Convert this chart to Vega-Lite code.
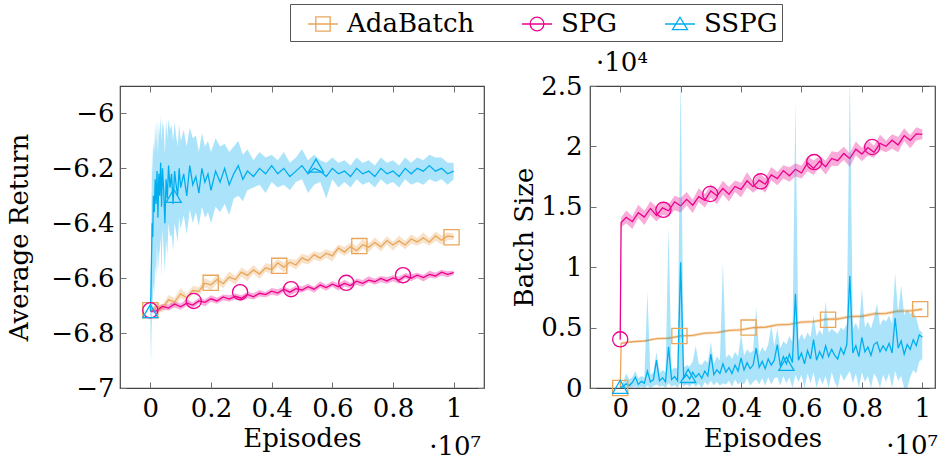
{
  "$schema": "https://vega.github.io/schema/vega-lite/v6.json",
  "padding": {"left": 6, "top": 2, "right": 5, "bottom": 0},
  "config": {
    "font": "DejaVu Serif, Liberation Serif, serif",
    "view": {"stroke": "#444444", "strokeWidth": 1.2},
    "axis": {"labelFont": "DejaVu Serif, Liberation Serif, serif", "labelFontSize": 26, "labelColor": "#000000", "titleFont": "DejaVu Serif, Liberation Serif, serif", "titleFontSize": 26, "titleFontWeight": "normal", "titleColor": "#000000", "domain": false, "grid": false, "tickColor": "#707070", "tickSize": -6, "tickWidth": 1, "labelFlush": false},
    "text": {"font": "DejaVu Serif, Liberation Serif, serif"}
  },
  "datasets": {
    "ret": [
      {"series":"AdaBatch","episodes":0,"mean":-6.720,"low":-6.725,"high":-6.715},
      {"series":"AdaBatch","episodes":0.02,"mean":-6.702,"low":-6.715,"high":-6.687},
      {"series":"AdaBatch","episodes":0.04,"mean":-6.709,"low":-6.726,"high":-6.697},
      {"series":"AdaBatch","episodes":0.06,"mean":-6.679,"low":-6.691,"high":-6.661},
      {"series":"AdaBatch","episodes":0.08,"mean":-6.686,"low":-6.705,"high":-6.672},
      {"series":"AdaBatch","episodes":0.1,"mean":-6.657,"low":-6.672,"high":-6.637},
      {"series":"AdaBatch","episodes":0.12,"mean":-6.671,"low":-6.687,"high":-6.658},
      {"series":"AdaBatch","episodes":0.14,"mean":-6.645,"low":-6.658,"high":-6.628},
      {"series":"AdaBatch","episodes":0.16,"mean":-6.648,"low":-6.666,"high":-6.633},
      {"series":"AdaBatch","episodes":0.18,"mean":-6.618,"low":-6.633,"high":-6.599},
      {"series":"AdaBatch","episodes":0.2,"mean":-6.624,"low":-6.644,"high":-6.612},
      {"series":"AdaBatch","episodes":0.22,"mean":-6.605,"low":-6.619,"high":-6.587},
      {"series":"AdaBatch","episodes":0.24,"mean":-6.620,"low":-6.637,"high":-6.606},
      {"series":"AdaBatch","episodes":0.26,"mean":-6.596,"low":-6.608,"high":-6.575},
      {"series":"AdaBatch","episodes":0.28,"mean":-6.605,"low":-6.624,"high":-6.592},
      {"series":"AdaBatch","episodes":0.3,"mean":-6.578,"low":-6.594,"high":-6.561},
      {"series":"AdaBatch","episodes":0.32,"mean":-6.590,"low":-6.611,"high":-6.575},
      {"series":"AdaBatch","episodes":0.34,"mean":-6.570,"low":-6.583,"high":-6.551},
      {"series":"AdaBatch","episodes":0.36,"mean":-6.585,"low":-6.603,"high":-6.573},
      {"series":"AdaBatch","episodes":0.38,"mean":-6.562,"low":-6.577,"high":-6.546},
      {"series":"AdaBatch","episodes":0.4,"mean":-6.569,"low":-6.586,"high":-6.549},
      {"series":"AdaBatch","episodes":0.42,"mean":-6.544,"low":-6.558,"high":-6.530},
      {"series":"AdaBatch","episodes":0.44,"mean":-6.560,"low":-6.580,"high":-6.543},
      {"series":"AdaBatch","episodes":0.46,"mean":-6.542,"low":-6.555,"high":-6.529},
      {"series":"AdaBatch","episodes":0.48,"mean":-6.552,"low":-6.568,"high":-6.533},
      {"series":"AdaBatch","episodes":0.5,"mean":-6.526,"low":-6.545,"high":-6.511},
      {"series":"AdaBatch","episodes":0.52,"mean":-6.536,"low":-6.550,"high":-6.518},
      {"series":"AdaBatch","episodes":0.54,"mean":-6.514,"low":-6.532,"high":-6.502},
      {"series":"AdaBatch","episodes":0.56,"mean":-6.527,"low":-6.539,"high":-6.507},
      {"series":"AdaBatch","episodes":0.58,"mean":-6.509,"low":-6.526,"high":-6.495},
      {"series":"AdaBatch","episodes":0.6,"mean":-6.519,"low":-6.539,"high":-6.503},
      {"series":"AdaBatch","episodes":0.62,"mean":-6.490,"low":-6.505,"high":-6.477},
      {"series":"AdaBatch","episodes":0.64,"mean":-6.505,"low":-6.518,"high":-6.486},
      {"series":"AdaBatch","episodes":0.66,"mean":-6.485,"low":-6.504,"high":-6.470},
      {"series":"AdaBatch","episodes":0.68,"mean":-6.500,"low":-6.516,"high":-6.483},
      {"series":"AdaBatch","episodes":0.7,"mean":-6.478,"low":-6.492,"high":-6.457},
      {"series":"AdaBatch","episodes":0.72,"mean":-6.487,"low":-6.505,"high":-6.474},
      {"series":"AdaBatch","episodes":0.74,"mean":-6.470,"low":-6.482,"high":-6.452},
      {"series":"AdaBatch","episodes":0.76,"mean":-6.486,"low":-6.503,"high":-6.472},
      {"series":"AdaBatch","episodes":0.78,"mean":-6.463,"low":-6.478,"high":-6.447},
      {"series":"AdaBatch","episodes":0.8,"mean":-6.479,"low":-6.499,"high":-6.467},
      {"series":"AdaBatch","episodes":0.82,"mean":-6.464,"low":-6.477,"high":-6.445},
      {"series":"AdaBatch","episodes":0.84,"mean":-6.479,"low":-6.495,"high":-6.464},
      {"series":"AdaBatch","episodes":0.86,"mean":-6.457,"low":-6.475,"high":-6.440},
      {"series":"AdaBatch","episodes":0.88,"mean":-6.468,"low":-6.482,"high":-6.455},
      {"series":"AdaBatch","episodes":0.9,"mean":-6.453,"low":-6.470,"high":-6.433},
      {"series":"AdaBatch","episodes":0.92,"mean":-6.469,"low":-6.481,"high":-6.455},
      {"series":"AdaBatch","episodes":0.94,"mean":-6.446,"low":-6.465,"high":-6.430},
      {"series":"AdaBatch","episodes":0.96,"mean":-6.462,"low":-6.477,"high":-6.444},
      {"series":"AdaBatch","episodes":0.98,"mean":-6.446,"low":-6.462,"high":-6.433},
      {"series":"AdaBatch","episodes":1,"mean":-6.450,"low":-6.460,"high":-6.438},
      {"series":"SPG","episodes":0,"mean":-6.720,"low":-6.724,"high":-6.716},
      {"series":"SPG","episodes":0.02,"mean":-6.719,"low":-6.729,"high":-6.708},
      {"series":"SPG","episodes":0.04,"mean":-6.703,"low":-6.715,"high":-6.694},
      {"series":"SPG","episodes":0.06,"mean":-6.709,"low":-6.718,"high":-6.696},
      {"series":"SPG","episodes":0.08,"mean":-6.694,"low":-6.707,"high":-6.684},
      {"series":"SPG","episodes":0.1,"mean":-6.704,"low":-6.715,"high":-6.692},
      {"series":"SPG","episodes":0.12,"mean":-6.691,"low":-6.701,"high":-6.677},
      {"series":"SPG","episodes":0.14,"mean":-6.698,"low":-6.710,"high":-6.689},
      {"series":"SPG","episodes":0.16,"mean":-6.683,"low":-6.692,"high":-6.672},
      {"series":"SPG","episodes":0.18,"mean":-6.688,"low":-6.702,"high":-6.678},
      {"series":"SPG","episodes":0.2,"mean":-6.675,"low":-6.686,"high":-6.662},
      {"series":"SPG","episodes":0.22,"mean":-6.683,"low":-6.693,"high":-6.671},
      {"series":"SPG","episodes":0.24,"mean":-6.668,"low":-6.681,"high":-6.659},
      {"series":"SPG","episodes":0.26,"mean":-6.676,"low":-6.685,"high":-6.662},
      {"series":"SPG","episodes":0.28,"mean":-6.666,"low":-6.678,"high":-6.656},
      {"series":"SPG","episodes":0.3,"mean":-6.673,"low":-6.684,"high":-6.662},
      {"series":"SPG","episodes":0.32,"mean":-6.659,"low":-6.673,"high":-6.650},
      {"series":"SPG","episodes":0.34,"mean":-6.668,"low":-6.678,"high":-6.655},
      {"series":"SPG","episodes":0.36,"mean":-6.655,"low":-6.667,"high":-6.643},
      {"series":"SPG","episodes":0.38,"mean":-6.660,"low":-6.669,"high":-6.650},
      {"series":"SPG","episodes":0.4,"mean":-6.647,"low":-6.660,"high":-6.636},
      {"series":"SPG","episodes":0.42,"mean":-6.654,"low":-6.665,"high":-6.640},
      {"series":"SPG","episodes":0.44,"mean":-6.640,"low":-6.650,"high":-6.631},
      {"series":"SPG","episodes":0.46,"mean":-6.651,"low":-6.663,"high":-6.639},
      {"series":"SPG","episodes":0.48,"mean":-6.638,"low":-6.652,"high":-6.628},
      {"series":"SPG","episodes":0.5,"mean":-6.643,"low":-6.652,"high":-6.630},
      {"series":"SPG","episodes":0.52,"mean":-6.631,"low":-6.642,"high":-6.620},
      {"series":"SPG","episodes":0.54,"mean":-6.640,"low":-6.653,"high":-6.631},
      {"series":"SPG","episodes":0.56,"mean":-6.625,"low":-6.635,"high":-6.611},
      {"series":"SPG","episodes":0.58,"mean":-6.634,"low":-6.646,"high":-6.624},
      {"series":"SPG","episodes":0.6,"mean":-6.622,"low":-6.631,"high":-6.610},
      {"series":"SPG","episodes":0.62,"mean":-6.631,"low":-6.645,"high":-6.620},
      {"series":"SPG","episodes":0.64,"mean":-6.619,"low":-6.630,"high":-6.606},
      {"series":"SPG","episodes":0.66,"mean":-6.627,"low":-6.637,"high":-6.618},
      {"series":"SPG","episodes":0.68,"mean":-6.611,"low":-6.624,"high":-6.601},
      {"series":"SPG","episodes":0.7,"mean":-6.619,"low":-6.631,"high":-6.607},
      {"series":"SPG","episodes":0.72,"mean":-6.607,"low":-6.616,"high":-6.593},
      {"series":"SPG","episodes":0.74,"mean":-6.613,"low":-6.624,"high":-6.602},
      {"series":"SPG","episodes":0.76,"mean":-6.601,"low":-6.615,"high":-6.592},
      {"series":"SPG","episodes":0.78,"mean":-6.610,"low":-6.620,"high":-6.597},
      {"series":"SPG","episodes":0.8,"mean":-6.599,"low":-6.611,"high":-6.589},
      {"series":"SPG","episodes":0.82,"mean":-6.607,"low":-6.620,"high":-6.595},
      {"series":"SPG","episodes":0.84,"mean":-6.592,"low":-6.601,"high":-6.581},
      {"series":"SPG","episodes":0.86,"mean":-6.600,"low":-6.611,"high":-6.586},
      {"series":"SPG","episodes":0.88,"mean":-6.589,"low":-6.599,"high":-6.580},
      {"series":"SPG","episodes":0.9,"mean":-6.598,"low":-6.612,"high":-6.588},
      {"series":"SPG","episodes":0.92,"mean":-6.586,"low":-6.598,"high":-6.573},
      {"series":"SPG","episodes":0.94,"mean":-6.592,"low":-6.601,"high":-6.580},
      {"series":"SPG","episodes":0.96,"mean":-6.578,"low":-6.591,"high":-6.569},
      {"series":"SPG","episodes":0.98,"mean":-6.586,"low":-6.597,"high":-6.575},
      {"series":"SPG","episodes":1,"mean":-6.580,"low":-6.588,"high":-6.572},
      {"series":"SSPG","episodes":0,"mean":-6.72,"low":-6.74,"high":-6.70},
      {"series":"SSPG","episodes":0.002,"mean":-6.66,"low":-6.92,"high":-6.55},
      {"series":"SSPG","episodes":0.004,"mean":-6.52,"low":-6.80,"high":-6.30},
      {"series":"SSPG","episodes":0.006,"mean":-6.40,"low":-6.72,"high":-6.12},
      {"series":"SSPG","episodes":0.008,"mean":-6.45,"low":-6.68,"high":-6.22},
      {"series":"SSPG","episodes":0.01,"mean":-6.30,"low":-6.62,"high":-6.10},
      {"series":"SSPG","episodes":0.013,"mean":-6.36,"low":-6.66,"high":-6.14},
      {"series":"SSPG","episodes":0.016,"mean":-6.24,"low":-6.55,"high":-6.04},
      {"series":"SSPG","episodes":0.019,"mean":-6.33,"low":-6.60,"high":-6.12},
      {"series":"SSPG","episodes":0.022,"mean":-6.21,"low":-6.48,"high":-6.02},
      {"series":"SSPG","episodes":0.025,"mean":-6.38,"low":-6.58,"high":-6.15},
      {"series":"SSPG","episodes":0.028,"mean":-6.22,"low":-6.52,"high":-6.03},
      {"series":"SSPG","episodes":0.031,"mean":-6.30,"low":-6.50,"high":-6.08},
      {"series":"SSPG","episodes":0.034,"mean":-6.18,"low":-6.45,"high":-6.01},
      {"series":"SSPG","episodes":0.037,"mean":-6.34,"low":-6.60,"high":-6.10},
      {"series":"SSPG","episodes":0.04,"mean":-6.20,"low":-6.42,"high":-6.03},
      {"series":"SSPG","episodes":0.044,"mean":-6.28,"low":-6.50,"high":-6.05},
      {"series":"SSPG","episodes":0.048,"mean":-6.40,"low":-6.58,"high":-6.15},
      {"series":"SSPG","episodes":0.052,"mean":-6.24,"low":-6.46,"high":-6.02},
      {"series":"SSPG","episodes":0.056,"mean":-6.31,"low":-6.52,"high":-6.09},
      {"series":"SSPG","episodes":0.06,"mean":-6.19,"low":-6.40,"high":-6.02},
      {"series":"SSPG","episodes":0.065,"mean":-6.27,"low":-6.45,"high":-6.06},
      {"series":"SSPG","episodes":0.07,"mean":-6.22,"low":-6.44,"high":-6.04},
      {"series":"SSPG","episodes":0.075,"mean":-6.33,"low":-6.50,"high":-6.10},
      {"series":"SSPG","episodes":0.08,"mean":-6.21,"low":-6.40,"high":-6.03},
      {"series":"SSPG","episodes":0.085,"mean":-6.26,"low":-6.43,"high":-6.08},
      {"series":"SSPG","episodes":0.09,"mean":-6.30,"low":-6.47,"high":-6.12},
      {"series":"SSPG","episodes":0.095,"mean":-6.20,"low":-6.38,"high":-6.04},
      {"series":"SSPG","episodes":0.1,"mean":-6.27,"low":-6.42,"high":-6.10},
      {"series":"SSPG","episodes":0.11,"mean":-6.22,"low":-6.37,"high":-6.06},
      {"series":"SSPG","episodes":0.12,"mean":-6.30,"low":-6.44,"high":-6.12},
      {"series":"SSPG","episodes":0.13,"mean":-6.19,"low":-6.35,"high":-6.05},
      {"series":"SSPG","episodes":0.14,"mean":-6.26,"low":-6.40,"high":-6.09},
      {"series":"SSPG","episodes":0.15,"mean":-6.23,"low":-6.36,"high":-6.08},
      {"series":"SSPG","episodes":0.16,"mean":-6.29,"low":-6.41,"high":-6.14},
      {"series":"SSPG","episodes":0.17,"mean":-6.20,"low":-6.34,"high":-6.07},
      {"series":"SSPG","episodes":0.18,"mean":-6.25,"low":-6.38,"high":-6.12},
      {"series":"SSPG","episodes":0.19,"mean":-6.22,"low":-6.36,"high":-6.10},
      {"series":"SSPG","episodes":0.2,"mean":-6.28,"low":-6.40,"high":-6.14},
      {"series":"SSPG","episodes":0.215,"mean":-6.21,"low":-6.34,"high":-6.09},
      {"series":"SSPG","episodes":0.23,"mean":-6.25,"low":-6.36,"high":-6.12},
      {"series":"SSPG","episodes":0.245,"mean":-6.20,"low":-6.33,"high":-6.11},
      {"series":"SSPG","episodes":0.26,"mean":-6.26,"low":-6.37,"high":-6.14},
      {"series":"SSPG","episodes":0.275,"mean":-6.22,"low":-6.31,"high":-6.12},
      {"series":"SSPG","episodes":0.29,"mean":-6.19,"low":-6.30,"high":-6.10},
      {"series":"SSPG","episodes":0.305,"mean":-6.24,"low":-6.32,"high":-6.15},
      {"series":"SSPG","episodes":0.32,"mean":-6.21,"low":-6.28,"high":-6.13},
      {"series":"SSPG","episodes":0.34,"mean":-6.23,"low":-6.27,"high":-6.17},
      {"series":"SSPG","episodes":0.36,"mean":-6.20,"low":-6.26,"high":-6.14},
      {"series":"SSPG","episodes":0.38,"mean":-6.22,"low":-6.29,"high":-6.16},
      {"series":"SSPG","episodes":0.4,"mean":-6.19,"low":-6.25,"high":-6.15},
      {"series":"SSPG","episodes":0.42,"mean":-6.22,"low":-6.27,"high":-6.17},
      {"series":"SSPG","episodes":0.44,"mean":-6.20,"low":-6.26,"high":-6.14},
      {"series":"SSPG","episodes":0.46,"mean":-6.23,"low":-6.28,"high":-6.18},
      {"series":"SSPG","episodes":0.48,"mean":-6.21,"low":-6.25,"high":-6.16},
      {"series":"SSPG","episodes":0.5,"mean":-6.19,"low":-6.24,"high":-6.13},
      {"series":"SSPG","episodes":0.52,"mean":-6.22,"low":-6.29,"high":-6.17},
      {"series":"SSPG","episodes":0.54,"mean":-6.20,"low":-6.26,"high":-6.15},
      {"series":"SSPG","episodes":0.56,"mean":-6.21,"low":-6.25,"high":-6.17},
      {"series":"SSPG","episodes":0.58,"mean":-6.23,"low":-6.31,"high":-6.18},
      {"series":"SSPG","episodes":0.6,"mean":-6.20,"low":-6.24,"high":-6.16},
      {"series":"SSPG","episodes":0.62,"mean":-6.22,"low":-6.27,"high":-6.18},
      {"series":"SSPG","episodes":0.64,"mean":-6.21,"low":-6.25,"high":-6.17},
      {"series":"SSPG","episodes":0.66,"mean":-6.23,"low":-6.27,"high":-6.19},
      {"series":"SSPG","episodes":0.68,"mean":-6.20,"low":-6.24,"high":-6.16},
      {"series":"SSPG","episodes":0.7,"mean":-6.22,"low":-6.26,"high":-6.18},
      {"series":"SSPG","episodes":0.72,"mean":-6.21,"low":-6.25,"high":-6.17},
      {"series":"SSPG","episodes":0.74,"mean":-6.23,"low":-6.27,"high":-6.19},
      {"series":"SSPG","episodes":0.76,"mean":-6.20,"low":-6.24,"high":-6.16},
      {"series":"SSPG","episodes":0.78,"mean":-6.22,"low":-6.26,"high":-6.18},
      {"series":"SSPG","episodes":0.8,"mean":-6.21,"low":-6.25,"high":-6.17},
      {"series":"SSPG","episodes":0.82,"mean":-6.23,"low":-6.27,"high":-6.19},
      {"series":"SSPG","episodes":0.84,"mean":-6.20,"low":-6.24,"high":-6.16},
      {"series":"SSPG","episodes":0.86,"mean":-6.22,"low":-6.26,"high":-6.18},
      {"series":"SSPG","episodes":0.88,"mean":-6.20,"low":-6.25,"high":-6.16},
      {"series":"SSPG","episodes":0.9,"mean":-6.21,"low":-6.26,"high":-6.17},
      {"series":"SSPG","episodes":0.92,"mean":-6.19,"low":-6.24,"high":-6.15},
      {"series":"SSPG","episodes":0.94,"mean":-6.21,"low":-6.25,"high":-6.16},
      {"series":"SSPG","episodes":0.96,"mean":-6.20,"low":-6.24,"high":-6.16},
      {"series":"SSPG","episodes":0.98,"mean":-6.22,"low":-6.26,"high":-6.18},
      {"series":"SSPG","episodes":1,"mean":-6.21,"low":-6.24,"high":-6.18}
    ],
    "ret_marks": [
      {"series":"AdaBatch","episodes":0,"mean":-6.717},
      {"series":"AdaBatch","episodes":0.199,"mean":-6.617},
      {"series":"AdaBatch","episodes":0.425,"mean":-6.555},
      {"series":"AdaBatch","episodes":0.689,"mean":-6.483},
      {"series":"AdaBatch","episodes":0.993,"mean":-6.451},
      {"series":"SPG","episodes":0,"mean":-6.717},
      {"series":"SPG","episodes":0.143,"mean":-6.683},
      {"series":"SPG","episodes":0.296,"mean":-6.651},
      {"series":"SPG","episodes":0.464,"mean":-6.640},
      {"series":"SPG","episodes":0.646,"mean":-6.617},
      {"series":"SPG","episodes":0.833,"mean":-6.589},
      {"series":"SSPG","episodes":0,"mean":-6.72},
      {"series":"SSPG","episodes":0.077,"mean":-6.30},
      {"series":"SSPG","episodes":0.546,"mean":-6.19}
    ],
    "batch": [
      {"series":"AdaBatch","episodes":0,"mean":0,"low":0,"high":0},
      {"series":"AdaBatch","episodes":0.003,"mean":3700,"low":3600,"high":3800},
      {"series":"AdaBatch","episodes":0.04,"mean":3830,"low":3740,"high":3930},
      {"series":"AdaBatch","episodes":0.08,"mean":3890,"low":3780,"high":4000},
      {"series":"AdaBatch","episodes":0.12,"mean":4090,"low":3970,"high":4190},
      {"series":"AdaBatch","episodes":0.16,"mean":4120,"low":4010,"high":4240},
      {"series":"AdaBatch","episodes":0.2,"mean":4310,"low":4190,"high":4420},
      {"series":"AdaBatch","episodes":0.24,"mean":4350,"low":4230,"high":4480},
      {"series":"AdaBatch","episodes":0.28,"mean":4540,"low":4410,"high":4650},
      {"series":"AdaBatch","episodes":0.32,"mean":4580,"low":4470,"high":4700},
      {"series":"AdaBatch","episodes":0.36,"mean":4770,"low":4640,"high":4880},
      {"series":"AdaBatch","episodes":0.4,"mean":4810,"low":4690,"high":4940},
      {"series":"AdaBatch","episodes":0.44,"mean":5000,"low":4870,"high":5120},
      {"series":"AdaBatch","episodes":0.48,"mean":5030,"low":4910,"high":5160},
      {"series":"AdaBatch","episodes":0.52,"mean":5230,"low":5090,"high":5350},
      {"series":"AdaBatch","episodes":0.56,"mean":5260,"low":5140,"high":5400},
      {"series":"AdaBatch","episodes":0.6,"mean":5450,"low":5310,"high":5580},
      {"series":"AdaBatch","episodes":0.64,"mean":5490,"low":5360,"high":5620},
      {"series":"AdaBatch","episodes":0.68,"mean":5690,"low":5550,"high":5820},
      {"series":"AdaBatch","episodes":0.72,"mean":5710,"low":5580,"high":5850},
      {"series":"AdaBatch","episodes":0.76,"mean":5910,"low":5770,"high":6050},
      {"series":"AdaBatch","episodes":0.8,"mean":5940,"low":5800,"high":6080},
      {"series":"AdaBatch","episodes":0.84,"mean":6140,"low":6000,"high":6290},
      {"series":"AdaBatch","episodes":0.88,"mean":6170,"low":6020,"high":6310},
      {"series":"AdaBatch","episodes":0.92,"mean":6370,"low":6220,"high":6510},
      {"series":"AdaBatch","episodes":0.96,"mean":6390,"low":6250,"high":6540},
      {"series":"AdaBatch","episodes":1,"mean":6520,"low":6390,"high":6650},
      {"series":"SPG","episodes":0,"mean":4000,"low":4000,"high":4000},
      {"series":"SPG","episodes":0.003,"mean":13700,"low":13300,"high":14100},
      {"series":"SPG","episodes":0.02,"mean":14135,"low":13635,"high":14685},
      {"series":"SPG","episodes":0.04,"mean":13770,"low":13170,"high":14220},
      {"series":"SPG","episodes":0.06,"mean":14515,"low":14065,"high":15165},
      {"series":"SPG","episodes":0.08,"mean":14150,"low":13500,"high":14650},
      {"series":"SPG","episodes":0.1,"mean":14865,"low":14315,"high":15465},
      {"series":"SPG","episodes":0.12,"mean":14290,"low":13790,"high":14990},
      {"series":"SPG","episodes":0.14,"mean":14915,"low":14315,"high":15365},
      {"series":"SPG","episodes":0.16,"mean":14670,"low":14220,"high":15220},
      {"series":"SPG","episodes":0.18,"mean":15415,"low":14715,"high":15915},
      {"series":"SPG","episodes":0.2,"mean":15080,"low":14530,"high":15730},
      {"series":"SPG","episodes":0.22,"mean":15615,"low":15115,"high":16215},
      {"series":"SPG","episodes":0.24,"mean":15130,"low":14480,"high":15580},
      {"series":"SPG","episodes":0.26,"mean":15845,"low":15395,"high":16545},
      {"series":"SPG","episodes":0.28,"mean":15540,"low":14940,"high":16040},
      {"series":"SPG","episodes":0.3,"mean":16315,"low":15765,"high":16865},
      {"series":"SPG","episodes":0.32,"mean":15920,"low":15220,"high":16370},
      {"series":"SPG","episodes":0.34,"mean":16515,"low":16015,"high":17165},
      {"series":"SPG","episodes":0.36,"mean":16030,"low":15430,"high":16630},
      {"series":"SPG","episodes":0.38,"mean":16685,"low":16235,"high":17185},
      {"series":"SPG","episodes":0.4,"mean":16440,"low":15790,"high":16990},
      {"series":"SPG","episodes":0.42,"mean":17155,"low":16605,"high":17855},
      {"series":"SPG","episodes":0.44,"mean":16670,"low":16170,"high":17120},
      {"series":"SPG","episodes":0.46,"mean":17205,"low":16605,"high":17805},
      {"series":"SPG","episodes":0.48,"mean":16870,"low":16170,"high":17370},
      {"series":"SPG","episodes":0.5,"mean":17645,"low":17195,"high":18295},
      {"series":"SPG","episodes":0.52,"mean":17340,"low":16790,"high":17890},
      {"series":"SPG","episodes":0.54,"mean":17995,"low":17345,"high":18445},
      {"series":"SPG","episodes":0.56,"mean":17570,"low":17070,"high":18270},
      {"series":"SPG","episodes":0.58,"mean":18105,"low":17505,"high":18605},
      {"series":"SPG","episodes":0.6,"mean":17800,"low":17350,"high":18400},
      {"series":"SPG","episodes":0.62,"mean":18635,"low":17935,"high":19185},
      {"series":"SPG","episodes":0.64,"mean":18180,"low":17630,"high":18830},
      {"series":"SPG","episodes":0.66,"mean":18775,"low":18275,"high":19225},
      {"series":"SPG","episodes":0.68,"mean":18320,"low":17670,"high":18820},
      {"series":"SPG","episodes":0.7,"mean":19005,"low":18405,"high":19605},
      {"series":"SPG","episodes":0.72,"mean":18820,"low":18370,"high":19520},
      {"series":"SPG","episodes":0.74,"mean":19415,"low":18865,"high":19965},
      {"series":"SPG","episodes":0.76,"mean":18990,"low":18290,"high":19440},
      {"series":"SPG","episodes":0.78,"mean":19765,"low":19265,"high":20415},
      {"series":"SPG","episodes":0.8,"mean":19370,"low":18770,"high":19870},
      {"series":"SPG","episodes":0.82,"mean":19905,"low":19255,"high":20505},
      {"series":"SPG","episodes":0.84,"mean":19510,"low":19060,"high":20060},
      {"series":"SPG","episodes":0.86,"mean":20255,"low":19705,"high":20955},
      {"series":"SPG","episodes":0.88,"mean":20010,"low":19510,"high":20460},
      {"series":"SPG","episodes":0.9,"mean":20515,"low":19815,"high":21015},
      {"series":"SPG","episodes":0.92,"mean":20120,"low":19520,"high":20770},
      {"series":"SPG","episodes":0.94,"mean":20895,"low":20445,"high":21495},
      {"series":"SPG","episodes":0.96,"mean":20500,"low":19850,"high":20950},
      {"series":"SPG","episodes":0.98,"mean":21035,"low":20485,"high":21585},
      {"series":"SPG","episodes":1,"mean":21000,"low":20600,"high":21400},
      {"series":"SSPG","episodes":0,"mean":0,"low":0,"high":100},
      {"series":"SSPG","episodes":0.01,"mean":150,"low":0,"high":500},
      {"series":"SSPG","episodes":0.02,"mean":350,"low":0,"high":1200},
      {"series":"SSPG","episodes":0.03,"mean":200,"low":0,"high":700},
      {"series":"SSPG","episodes":0.04,"mean":450,"low":50,"high":900},
      {"series":"SSPG","episodes":0.05,"mean":900,"low":100,"high":1400},
      {"series":"SSPG","episodes":0.06,"mean":300,"low":0,"high":800},
      {"series":"SSPG","episodes":0.07,"mean":550,"low":100,"high":1000},
      {"series":"SSPG","episodes":0.08,"mean":400,"low":0,"high":900},
      {"series":"SSPG","episodes":0.09,"mean":1400,"low":200,"high":8000},
      {"series":"SSPG","episodes":0.1,"mean":500,"low":0,"high":1100},
      {"series":"SSPG","episodes":0.11,"mean":700,"low":150,"high":1300},
      {"series":"SSPG","episodes":0.12,"mean":2300,"low":300,"high":3000},
      {"series":"SSPG","episodes":0.13,"mean":600,"low":100,"high":1200},
      {"series":"SSPG","episodes":0.14,"mean":850,"low":200,"high":1500},
      {"series":"SSPG","episodes":0.15,"mean":500,"low":0,"high":1300},
      {"series":"SSPG","episodes":0.16,"mean":3400,"low":400,"high":13300},
      {"series":"SSPG","episodes":0.17,"mean":700,"low":100,"high":1500},
      {"series":"SSPG","episodes":0.18,"mean":950,"low":250,"high":1700},
      {"series":"SSPG","episodes":0.19,"mean":600,"low":0,"high":1600},
      {"series":"SSPG","episodes":0.2,"mean":10400,"low":500,"high":26000},
      {"series":"SSPG","episodes":0.21,"mean":800,"low":150,"high":1700},
      {"series":"SSPG","episodes":0.22,"mean":1100,"low":300,"high":1900},
      {"series":"SSPG","episodes":0.23,"mean":750,"low":100,"high":1800},
      {"series":"SSPG","episodes":0.24,"mean":1300,"low":400,"high":2200},
      {"series":"SSPG","episodes":0.25,"mean":900,"low":100,"high":3500},
      {"series":"SSPG","episodes":0.26,"mean":1200,"low":350,"high":2000},
      {"series":"SSPG","episodes":0.27,"mean":800,"low":0,"high":1900},
      {"series":"SSPG","episodes":0.28,"mean":1400,"low":500,"high":2300},
      {"series":"SSPG","episodes":0.29,"mean":1000,"low":200,"high":2100},
      {"series":"SSPG","episodes":0.3,"mean":2800,"low":600,"high":3800},
      {"series":"SSPG","episodes":0.31,"mean":1100,"low":200,"high":2000},
      {"series":"SSPG","episodes":0.32,"mean":1500,"low":500,"high":2600},
      {"series":"SSPG","episodes":0.33,"mean":1200,"low":200,"high":2300},
      {"series":"SSPG","episodes":0.34,"mean":2000,"low":400,"high":10400},
      {"series":"SSPG","episodes":0.35,"mean":1300,"low":300,"high":2500},
      {"series":"SSPG","episodes":0.36,"mean":1700,"low":600,"high":2800},
      {"series":"SSPG","episodes":0.37,"mean":1200,"low":100,"high":2400},
      {"series":"SSPG","episodes":0.38,"mean":1900,"low":700,"high":3000},
      {"series":"SSPG","episodes":0.39,"mean":1400,"low":300,"high":2600},
      {"series":"SSPG","episodes":0.4,"mean":2500,"low":500,"high":4500},
      {"series":"SSPG","episodes":0.41,"mean":1500,"low":300,"high":2700},
      {"series":"SSPG","episodes":0.42,"mean":2100,"low":800,"high":3200},
      {"series":"SSPG","episodes":0.43,"mean":1600,"low":200,"high":2900},
      {"series":"SSPG","episodes":0.44,"mean":1900,"low":500,"high":3100},
      {"series":"SSPG","episodes":0.45,"mean":3300,"low":700,"high":6700},
      {"series":"SSPG","episodes":0.46,"mean":1700,"low":300,"high":2800},
      {"series":"SSPG","episodes":0.47,"mean":2200,"low":800,"high":3400},
      {"series":"SSPG","episodes":0.48,"mean":1600,"low":200,"high":3000},
      {"series":"SSPG","episodes":0.49,"mean":2400,"low":900,"high":3600},
      {"series":"SSPG","episodes":0.5,"mean":1900,"low":300,"high":5200},
      {"series":"SSPG","episodes":0.51,"mean":2300,"low":800,"high":3500},
      {"series":"SSPG","episodes":0.52,"mean":3600,"low":900,"high":4900},
      {"series":"SSPG","episodes":0.53,"mean":1800,"low":200,"high":3300},
      {"series":"SSPG","episodes":0.54,"mean":2600,"low":1000,"high":3900},
      {"series":"SSPG","episodes":0.55,"mean":2000,"low":400,"high":3600},
      {"series":"SSPG","episodes":0.56,"mean":2800,"low":900,"high":4300},
      {"series":"SSPG","episodes":0.57,"mean":2100,"low":0,"high":3800},
      {"series":"SSPG","episodes":0.58,"mean":7800,"low":1100,"high":23700},
      {"series":"SSPG","episodes":0.59,"mean":2300,"low":500,"high":3900},
      {"series":"SSPG","episodes":0.6,"mean":2900,"low":1100,"high":4500},
      {"series":"SSPG","episodes":0.61,"mean":2000,"low":0,"high":4000},
      {"series":"SSPG","episodes":0.62,"mean":3100,"low":1200,"high":4600},
      {"series":"SSPG","episodes":0.63,"mean":2400,"low":400,"high":4200},
      {"series":"SSPG","episodes":0.64,"mean":4000,"low":1300,"high":6000},
      {"series":"SSPG","episodes":0.65,"mean":2300,"low":0,"high":4300},
      {"series":"SSPG","episodes":0.66,"mean":3000,"low":900,"high":4800},
      {"series":"SSPG","episodes":0.67,"mean":2500,"low":300,"high":4400},
      {"series":"SSPG","episodes":0.68,"mean":3500,"low":1000,"high":7200},
      {"series":"SSPG","episodes":0.69,"mean":2600,"low":0,"high":4600},
      {"series":"SSPG","episodes":0.7,"mean":3200,"low":1300,"high":4900},
      {"series":"SSPG","episodes":0.71,"mean":2700,"low":500,"high":4700},
      {"series":"SSPG","episodes":0.72,"mean":2400,"low":0,"high":4500},
      {"series":"SSPG","episodes":0.73,"mean":3300,"low":1200,"high":5000},
      {"series":"SSPG","episodes":0.74,"mean":2800,"low":600,"high":4800},
      {"series":"SSPG","episodes":0.75,"mean":3600,"low":1000,"high":5300},
      {"series":"SSPG","episodes":0.76,"mean":9300,"low":1400,"high":26000},
      {"series":"SSPG","episodes":0.77,"mean":2900,"low":400,"high":4900},
      {"series":"SSPG","episodes":0.78,"mean":3500,"low":1200,"high":5400},
      {"series":"SSPG","episodes":0.79,"mean":2600,"low":0,"high":4800},
      {"series":"SSPG","episodes":0.8,"mean":4200,"low":1300,"high":8200},
      {"series":"SSPG","episodes":0.81,"mean":3000,"low":500,"high":5000},
      {"series":"SSPG","episodes":0.82,"mean":3400,"low":1000,"high":5500},
      {"series":"SSPG","episodes":0.83,"mean":2700,"low":0,"high":4900},
      {"series":"SSPG","episodes":0.84,"mean":3600,"low":1200,"high":5800},
      {"series":"SSPG","episodes":0.85,"mean":3800,"low":800,"high":7000},
      {"series":"SSPG","episodes":0.86,"mean":3000,"low":0,"high":5200},
      {"series":"SSPG","episodes":0.87,"mean":3500,"low":1100,"high":5700},
      {"series":"SSPG","episodes":0.88,"mean":3100,"low":500,"high":5500},
      {"series":"SSPG","episodes":0.89,"mean":3700,"low":1200,"high":6000},
      {"series":"SSPG","episodes":0.9,"mean":2900,"low":0,"high":5300},
      {"series":"SSPG","episodes":0.91,"mean":5800,"low":1400,"high":9500},
      {"series":"SSPG","episodes":0.92,"mean":3300,"low":600,"high":6200},
      {"series":"SSPG","episodes":0.93,"mean":3900,"low":1000,"high":8500},
      {"series":"SSPG","episodes":0.94,"mean":2800,"low":0,"high":6000},
      {"series":"SSPG","episodes":0.95,"mean":3600,"low":0,"high":6500},
      {"series":"SSPG","episodes":0.96,"mean":3200,"low":900,"high":6100},
      {"series":"SSPG","episodes":0.97,"mean":4000,"low":1500,"high":6400},
      {"series":"SSPG","episodes":0.98,"mean":3500,"low":1200,"high":5800},
      {"series":"SSPG","episodes":0.99,"mean":4400,"low":2200,"high":4800},
      {"series":"SSPG","episodes":1,"mean":4200,"low":2400,"high":4600}
    ],
    "batch_marks": [
      {"series":"AdaBatch","episodes":0,"mean":0},
      {"series":"AdaBatch","episodes":0.196,"mean":4300},
      {"series":"AdaBatch","episodes":0.425,"mean":5000},
      {"series":"AdaBatch","episodes":0.688,"mean":5650},
      {"series":"AdaBatch","episodes":0.993,"mean":6530},
      {"series":"SPG","episodes":0,"mean":4030},
      {"series":"SPG","episodes":0.143,"mean":14750},
      {"series":"SPG","episodes":0.298,"mean":16060},
      {"series":"SPG","episodes":0.465,"mean":17110},
      {"series":"SPG","episodes":0.642,"mean":18700},
      {"series":"SPG","episodes":0.834,"mean":19950},
      {"series":"SSPG","episodes":0,"mean":100},
      {"series":"SSPG","episodes":0.225,"mean":1000},
      {"series":"SSPG","episodes":0.55,"mean":2000}
    ]
  },
  "spacing": 106,
  "bounds": "flush",
  "hconcat": [
    {
      "width": 364,
      "height": 302,
      "layer": [
        {
          "data": {"name": "ret"},
          "transform": [{"filter": "datum.series !== 'SSPG'"}],
          "mark": {"type": "area", "clip": true, "fillOpacity": 0.33},
          "encoding": {
            "x": {"field": "episodes", "type": "quantitative", "scale": {"domain": [-0.1, 1.1], "nice": false, "zero": false}, "axis": null},
            "y": {"field": "low", "type": "quantitative", "scale": {"domain": [-7, -5.9], "nice": false, "zero": false}, "axis": null},
            "y2": {"field": "high"},
            "color": {"field": "series", "type": "nominal", "scale": {"domain": ["AdaBatch", "SPG", "SSPG"], "range": ["#E9A65B", "#EC008C", "#00AEEF"]}, "legend": null}
          }
        },
        {
          "data": {"name": "ret"},
          "transform": [{"filter": "datum.series !== 'SSPG'"}],
          "mark": {"type": "line", "clip": true, "strokeWidth": 1.3},
          "encoding": {
            "x": {"field": "episodes", "type": "quantitative", "scale": {"domain": [-0.1, 1.1], "nice": false, "zero": false}, "axis": {"orient": "bottom", "values": [0, 0.2, 0.4, 0.6, 0.8, 1], "format": "~g", "title": "Episodes", "labelPadding": 13, "titlePadding": 4}},
            "y": {"field": "mean", "type": "quantitative", "scale": {"domain": [-7, -5.9], "nice": false, "zero": false}, "axis": {"orient": "left", "values": [-7, -6.8, -6.6, -6.4, -6.2, -6], "format": "~g", "title": "Average Return", "labelPadding": 12, "titlePadding": 18}},
            "color": {"field": "series", "type": "nominal", "scale": {"domain": ["AdaBatch", "SPG", "SSPG"], "range": ["#E9A65B", "#EC008C", "#00AEEF"]}, "legend": null}
          }
        },
        {
          "data": {"name": "ret"},
          "transform": [{"filter": "datum.series === 'SSPG'"}],
          "mark": {"type": "area", "clip": true, "fillOpacity": 0.33},
          "encoding": {
            "x": {"field": "episodes", "type": "quantitative", "scale": {"domain": [-0.1, 1.1], "nice": false, "zero": false}, "axis": null},
            "y": {"field": "low", "type": "quantitative", "scale": {"domain": [-7, -5.9], "nice": false, "zero": false}, "axis": null},
            "y2": {"field": "high"},
            "color": {"field": "series", "type": "nominal", "scale": {"domain": ["AdaBatch", "SPG", "SSPG"], "range": ["#E9A65B", "#EC008C", "#00AEEF"]}, "legend": null}
          }
        },
        {
          "data": {"name": "ret"},
          "transform": [{"filter": "datum.series === 'SSPG'"}],
          "mark": {"type": "line", "clip": true, "strokeWidth": 1.3},
          "encoding": {
            "x": {"field": "episodes", "type": "quantitative", "scale": {"domain": [-0.1, 1.1], "nice": false, "zero": false}, "axis": null},
            "y": {"field": "mean", "type": "quantitative", "scale": {"domain": [-7, -5.9], "nice": false, "zero": false}, "axis": null},
            "color": {"field": "series", "type": "nominal", "scale": {"domain": ["AdaBatch", "SPG", "SSPG"], "range": ["#E9A65B", "#EC008C", "#00AEEF"]}, "legend": null}
          }
        },
        {
          "data": {"name": "ret_marks"},
          "mark": {"type": "point", "filled": false, "opacity": 1, "strokeWidth": 1.3, "size": 230},
          "encoding": {
            "x": {"field": "episodes", "type": "quantitative", "scale": {"domain": [-0.1, 1.1], "nice": false, "zero": false}, "axis": null},
            "y": {"field": "mean", "type": "quantitative", "scale": {"domain": [-7, -5.9], "nice": false, "zero": false}, "axis": null},
            "color": {"field": "series", "type": "nominal", "scale": {"domain": ["AdaBatch", "SPG", "SSPG"], "range": ["#E9A65B", "#EC008C", "#00AEEF"]}, "legend": null},
            "shape": {"field": "series", "type": "nominal", "scale": {"domain": ["AdaBatch", "SPG", "SSPG"], "range": ["square", "circle", "triangle-up"]}, "legend": null}
          }
        },
        {
          "data": {"name": "ret_marks"},
          "mark": {"type": "point", "filled": false, "opacity": 0, "strokeWidth": 1.3},
          "encoding": {
            "x": {"field": "episodes", "type": "quantitative", "scale": {"domain": [-0.1, 1.1], "nice": false, "zero": false}, "axis": null},
            "y": {"field": "mean", "type": "quantitative", "scale": {"domain": [-7, -5.9], "nice": false, "zero": false}, "axis": null},
            "color": {"field": "series", "type": "nominal", "scale": {"domain": ["AdaBatch", "SPG", "SSPG"], "range": ["#E9A65B", "#EC008C", "#00AEEF"]},
              "legend": {"orient": "none", "legendX": 170, "legendY": -82, "direction": "horizontal", "title": null, "labelFont": "DejaVu Serif, Liberation Serif, serif", "labelFontSize": 26, "labelColor": "#000000", "symbolSize": 900, "symbolStrokeWidth": 1.3, "symbolOpacity": 1, "labelOffset": 8, "columnPadding": 33, "padding": 4, "strokeColor": "#555555", "symbolOffset": 13}},
            "shape": {"field": "series", "type": "nominal", "scale": {"domain": ["AdaBatch", "SPG", "SSPG"], "range": ["M-1,0H1M-0.48,-0.48H0.48V0.48H-0.48Z", "M-1,0H1M0.46,0A0.46,0.46,0,1,1,-0.46,0A0.46,0.46,0,1,1,0.46,0Z", "M-1,0H1M0,-0.45L0.5,0.38H-0.5Z"]},
              "legend": {"orient": "none", "legendX": 170, "legendY": -82, "direction": "horizontal", "title": null, "labelFont": "DejaVu Serif, Liberation Serif, serif", "labelFontSize": 26, "labelColor": "#000000", "symbolSize": 900, "symbolStrokeWidth": 1.3, "symbolOpacity": 1, "labelOffset": 8, "columnPadding": 33, "padding": 4, "strokeColor": "#555555", "symbolOffset": 13}}
          }
        },
        {
          "data": {"values": [{"label": "·10⁷"}]},
          "mark": {"type": "text", "align": "right", "baseline": "alphabetic", "fontSize": 26, "color": "#000000"},
          "encoding": {
            "x": {"datum": 1.09, "type": "quantitative", "scale": {"domain": [-0.1, 1.1], "nice": false, "zero": false}, "axis": null},
            "y": {"datum": -7.245, "type": "quantitative", "scale": {"domain": [-7, -5.9], "nice": false, "zero": false}, "axis": null},
            "text": {"field": "label"}
          }
        },
        {
          "data": {"name": "ret_marks"},
          "mark": {"type": "point", "opacity": 0},
          "encoding": {
            "x": {"field": "episodes", "type": "quantitative", "scale": {"domain": [-0.1, 1.1], "nice": false, "zero": false}, "axis": {"orient": "top", "values": [0, 0.2, 0.4, 0.6, 0.8, 1], "labels": false, "title": null}},
            "y": {"field": "mean", "type": "quantitative", "scale": {"domain": [-7, -5.9], "nice": false, "zero": false}, "axis": {"orient": "right", "values": [-7, -6.8, -6.6, -6.4, -6.2, -6], "labels": false, "title": null}}
          }
        }
      ],
      "resolve": {"axis": {"x": "independent", "y": "independent"}, "scale": {"color": "independent", "shape": "independent"}}
    },
    {
      "width": 345,
      "height": 302,
      "layer": [
        {
          "data": {"name": "batch"},
          "transform": [{"filter": "datum.series !== 'SSPG'"}],
          "mark": {"type": "area", "clip": true, "fillOpacity": 0.33},
          "encoding": {
            "x": {"field": "episodes", "type": "quantitative", "scale": {"domain": [-0.1, 1.042], "nice": false, "zero": false}, "axis": null},
            "y": {"field": "low", "type": "quantitative", "scale": {"domain": [0, 25000], "nice": false, "zero": false}, "axis": null},
            "y2": {"field": "high"},
            "color": {"field": "series", "type": "nominal", "scale": {"domain": ["AdaBatch", "SPG", "SSPG"], "range": ["#E9A65B", "#EC008C", "#00AEEF"]}, "legend": null}
          }
        },
        {
          "data": {"name": "batch"},
          "transform": [{"filter": "datum.series !== 'SSPG'"}],
          "mark": {"type": "line", "clip": true, "strokeWidth": 1.3},
          "encoding": {
            "x": {"field": "episodes", "type": "quantitative", "scale": {"domain": [-0.1, 1.042], "nice": false, "zero": false}, "axis": {"orient": "bottom", "values": [0, 0.2, 0.4, 0.6, 0.8, 1], "format": "~g", "title": "Episodes", "labelPadding": 13, "titlePadding": 4}},
            "y": {"field": "mean", "type": "quantitative", "scale": {"domain": [0, 25000], "nice": false, "zero": false}, "axis": {"orient": "left", "values": [0, 5000, 10000, 15000, 20000, 25000], "labelExpr": "format(datum.value / 10000, '~g')", "title": "Batch Size", "labelPadding": 14, "titlePadding": 3}},
            "color": {"field": "series", "type": "nominal", "scale": {"domain": ["AdaBatch", "SPG", "SSPG"], "range": ["#E9A65B", "#EC008C", "#00AEEF"]}, "legend": null}
          }
        },
        {
          "data": {"name": "batch"},
          "transform": [{"filter": "datum.series === 'SSPG'"}],
          "mark": {"type": "area", "clip": true, "fillOpacity": 0.33},
          "encoding": {
            "x": {"field": "episodes", "type": "quantitative", "scale": {"domain": [-0.1, 1.042], "nice": false, "zero": false}, "axis": null},
            "y": {"field": "low", "type": "quantitative", "scale": {"domain": [0, 25000], "nice": false, "zero": false}, "axis": null},
            "y2": {"field": "high"},
            "color": {"field": "series", "type": "nominal", "scale": {"domain": ["AdaBatch", "SPG", "SSPG"], "range": ["#E9A65B", "#EC008C", "#00AEEF"]}, "legend": null}
          }
        },
        {
          "data": {"name": "batch"},
          "transform": [{"filter": "datum.series === 'SSPG'"}],
          "mark": {"type": "line", "clip": true, "strokeWidth": 1.3},
          "encoding": {
            "x": {"field": "episodes", "type": "quantitative", "scale": {"domain": [-0.1, 1.042], "nice": false, "zero": false}, "axis": null},
            "y": {"field": "mean", "type": "quantitative", "scale": {"domain": [0, 25000], "nice": false, "zero": false}, "axis": null},
            "color": {"field": "series", "type": "nominal", "scale": {"domain": ["AdaBatch", "SPG", "SSPG"], "range": ["#E9A65B", "#EC008C", "#00AEEF"]}, "legend": null}
          }
        },
        {
          "data": {"name": "batch_marks"},
          "mark": {"type": "point", "filled": false, "opacity": 1, "strokeWidth": 1.3, "size": 230},
          "encoding": {
            "x": {"field": "episodes", "type": "quantitative", "scale": {"domain": [-0.1, 1.042], "nice": false, "zero": false}, "axis": null},
            "y": {"field": "mean", "type": "quantitative", "scale": {"domain": [0, 25000], "nice": false, "zero": false}, "axis": null},
            "color": {"field": "series", "type": "nominal", "scale": {"domain": ["AdaBatch", "SPG", "SSPG"], "range": ["#E9A65B", "#EC008C", "#00AEEF"]}, "legend": null},
            "shape": {"field": "series", "type": "nominal", "scale": {"domain": ["AdaBatch", "SPG", "SSPG"], "range": ["square", "circle", "triangle-up"]}, "legend": null}
          }
        },
        {
          "data": {"values": [{"label": "·10⁷"}]},
          "mark": {"type": "text", "align": "right", "baseline": "alphabetic", "fontSize": 26, "color": "#000000"},
          "encoding": {
            "x": {"datum": 1.052, "type": "quantitative", "scale": {"domain": [-0.1, 1.042], "nice": false, "zero": false}, "axis": null},
            "y": {"datum": -5500, "type": "quantitative", "scale": {"domain": [0, 25000], "nice": false, "zero": false}, "axis": null},
            "text": {"field": "label"}
          }
        },
        {
          "data": {"values": [{"label": "·10⁴"}]},
          "mark": {"type": "text", "align": "left", "baseline": "alphabetic", "fontSize": 26, "color": "#000000"},
          "encoding": {
            "x": {"datum": -0.08, "type": "quantitative", "scale": {"domain": [-0.1, 1.042], "nice": false, "zero": false}, "axis": null},
            "y": {"datum": 26225, "type": "quantitative", "scale": {"domain": [0, 25000], "nice": false, "zero": false}, "axis": null},
            "text": {"field": "label"}
          }
        },
        {
          "data": {"name": "batch_marks"},
          "mark": {"type": "point", "opacity": 0},
          "encoding": {
            "x": {"field": "episodes", "type": "quantitative", "scale": {"domain": [-0.1, 1.042], "nice": false, "zero": false}, "axis": {"orient": "top", "values": [0, 0.2, 0.4, 0.6, 0.8, 1], "labels": false, "title": null}},
            "y": {"field": "mean", "type": "quantitative", "scale": {"domain": [0, 25000], "nice": false, "zero": false}, "axis": {"orient": "right", "values": [0, 5000, 10000, 15000, 20000, 25000], "labels": false, "title": null}}
          }
        }
      ],
      "resolve": {"axis": {"x": "independent", "y": "independent"}}
    }
  ]
}
